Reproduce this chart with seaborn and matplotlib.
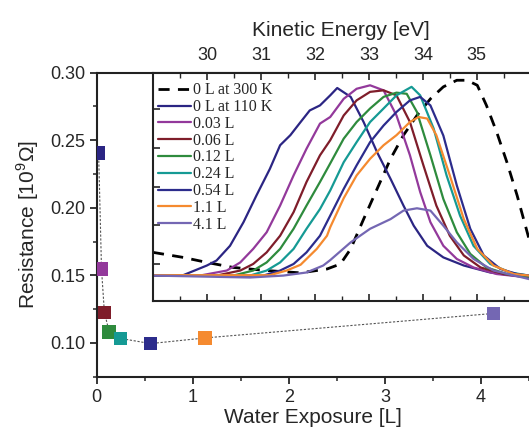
import numpy as np
import pandas as pd
import seaborn as sns
import matplotlib
matplotlib.use("Agg")
import matplotlib.pyplot as plt
from matplotlib.ticker import MultipleLocator, FixedLocator

# resistance vs water exposure (main panel)
exposure = [0.02, 0.05, 0.08, 0.13, 0.25, 0.56, 1.13, 4.13]
resistance = [0.2406, 0.1547, 0.1226, 0.1082, 0.1033, 0.0995, 0.1037, 0.1218]
labels = ["0 L at 110 K", "0.03 L", "0.06 L", "0.12 L", "0.24 L", "0.54 L", "1.1 L", "4.1 L"]
colors = ["#2b2583", "#93399b", "#7f1d2a", "#2e8b3d", "#159a94", "#2c2c8c", "#f58a2f", "#7467b3"]

# inset tick positions
ke_major = [30, 31, 32, 33, 34, 35]
ke_minor = [29.5, 30.5, 31.5, 32.5, 33.5, 34.5, 35.5]

# spectra (inset), kinetic energy [eV] and intensity [arb.]
ke_300k = [28.99, 29.55, 29.99, 30.48, 31.10, 31.73, 32.22, 32.47, 32.66, 32.90, 33.15, 33.40,
           33.64, 33.89, 34.14, 34.38, 34.63, 34.82, 35.01, 35.18, 35.37, 35.56, 35.75, 35.97]
int_300k = [1.30, 1.17, 1.04, 0.91, 0.83, 0.77, 0.87, 1.00, 1.39, 2.16, 2.94, 3.72,
            4.33, 4.84, 5.27, 5.58, 5.75, 5.75, 5.62, 5.10, 4.41, 3.63, 2.77, 1.65]

ke_110k = [28.99, 29.55, 29.99, 30.17, 30.42, 30.67, 30.91, 31.16, 31.35, 31.54, 31.73, 31.90,
           32.09, 32.28, 32.41, 32.66, 32.90, 33.15, 33.40, 33.64, 33.83, 34.08, 34.38, 34.76,
           35.25, 35.97]
int_110k = [0.70, 0.71, 0.96, 1.09, 1.47, 2.08, 2.77, 3.46, 4.07, 4.33, 4.67, 4.97,
            5.10, 5.36, 5.55, 5.32, 4.67, 3.89, 3.20, 2.51, 1.99, 1.47, 1.17, 0.96,
            0.78, 0.65]

ke_003 = [28.99, 29.86, 30.36, 30.61, 30.85, 31.10, 31.35, 31.60, 31.84, 32.09, 32.28, 32.53,
          32.77, 33.02, 33.27, 33.51, 33.76, 33.95, 34.14, 34.38, 34.63, 34.94, 35.37, 35.97]
int_003 = [0.70, 0.70, 0.83, 1.04, 1.39, 1.82, 2.51, 3.29, 3.98, 4.63, 4.80, 5.27,
           5.53, 5.62, 5.49, 4.84, 3.81, 2.86, 2.08, 1.47, 1.13, 0.91, 0.74, 0.65]

ke_006 = [28.99, 30.17, 30.61, 30.85, 31.10, 31.35, 31.60, 31.84, 32.09, 32.28, 32.53, 32.77,
          33.02, 33.27, 33.51, 33.76, 34.01, 34.25, 34.50, 34.76, 35.07, 35.50, 35.97]
int_006 = [0.71, 0.70, 0.83, 1.00, 1.30, 1.73, 2.34, 3.12, 3.81, 4.20, 4.84, 5.23,
           5.45, 5.49, 5.36, 4.67, 3.55, 2.51, 1.73, 1.22, 0.91, 0.74, 0.67]

ke_012 = [28.99, 30.48, 30.85, 31.10, 31.35, 31.60, 31.84, 32.09, 32.28, 32.53, 32.77, 33.02,
          33.27, 33.51, 33.70, 33.89, 34.14, 34.38, 34.63, 34.88, 35.18, 35.56, 35.97]
int_012 = [0.70, 0.70, 0.83, 1.04, 1.39, 1.91, 2.51, 3.12, 3.60, 4.24, 4.67, 5.02,
           5.32, 5.43, 5.40, 4.93, 3.81, 2.68, 1.82, 1.26, 0.91, 0.74, 0.67]

ke_024 = [28.99, 30.79, 31.10, 31.35, 31.60, 31.84, 32.09, 32.28, 32.53, 32.77, 33.02, 33.27,
          33.51, 33.79, 33.95, 34.20, 34.44, 34.69, 34.94, 35.25, 35.62, 35.97]
int_024 = [0.70, 0.70, 0.83, 1.04, 1.39, 1.91, 2.42, 2.90, 3.63, 4.15, 4.67, 5.02,
           5.36, 5.58, 5.36, 4.50, 3.29, 2.25, 1.47, 1.00, 0.78, 0.70]

ke_054 = [28.99, 31.04, 31.35, 31.60, 31.84, 32.09, 32.28, 32.53, 32.77, 33.02, 33.27, 33.51,
          33.76, 33.95, 34.14, 34.38, 34.63, 34.88, 35.13, 35.44, 35.75, 35.97]
int_054 = [0.70, 0.70, 0.83, 1.00, 1.30, 1.73, 2.25, 2.94, 3.55, 4.15, 4.58, 4.93,
           5.23, 5.32, 5.10, 4.32, 3.03, 1.91, 1.22, 0.87, 0.74, 0.70]

ke_11 = [28.99, 31.16, 31.47, 31.73, 32.03, 32.22, 32.28, 32.53, 32.77, 33.02, 33.27, 33.51,
         33.76, 33.92, 34.08, 34.25, 34.50, 34.76, 35.01, 35.31, 35.69, 35.97]
int_11 = [0.71, 0.71, 0.83, 0.98, 1.39, 1.73, 1.95, 2.70, 3.29, 3.72, 4.07, 4.33,
          4.67, 4.80, 4.76, 4.33, 3.29, 2.16, 1.39, 0.96, 0.74, 0.70]

ke_41 = [28.99, 30.79, 31.41, 31.84, 32.15, 32.28, 32.66, 33.02, 33.40, 33.64, 33.89, 34.14,
         34.38, 34.63, 34.94, 35.31, 35.97]
int_41 = [0.70, 0.65, 0.70, 0.78, 0.96, 1.10, 1.56, 1.91, 2.16, 2.38, 2.44, 2.38,
          1.99, 1.56, 1.13, 0.83, 0.61]

spectra = [(ke_110k, int_110k), (ke_003, int_003), (ke_006, int_006), (ke_012, int_012),
           (ke_024, int_024), (ke_054, int_054), (ke_11, int_11), (ke_41, int_41)]

sns.set_style("ticks")
plt.rcParams['font.family'] = ['Liberation Sans', 'DejaVu Sans']
plt.rcParams['mathtext.fontset'] = 'custom'
plt.rcParams['mathtext.rm'] = 'Liberation Sans'

fig = plt.figure(figsize=(5.29, 4.33), dpi=100)
ax = fig.add_axes([0.1828, 0.130, 0.8172, 0.7025])

df = pd.DataFrame({'exposure': exposure, 'resistance': resistance, 'label': labels})
sns.lineplot(data=df, x='exposure', y='resistance', ax=ax, color='#555555', lw=0.8,
             linestyle=(0, (2, 1.5)), sort=False, zorder=1)
sns.scatterplot(data=df, x='exposure', y='resistance', hue='label', palette=colors, ax=ax,
                marker='s', s=95, edgecolor='none', legend=False, zorder=3)

ax.set_xlim(0, 4.5)
ax.set_ylim(0.075, 0.30)
ax.xaxis.set_major_locator(MultipleLocator(1))
ax.xaxis.set_minor_locator(MultipleLocator(0.5))
ax.yaxis.set_major_locator(MultipleLocator(0.05))
ax.yaxis.set_minor_locator(MultipleLocator(0.025))
ax.yaxis.set_major_formatter(plt.FormatStrFormatter('%.2f'))
ax.tick_params(which='major', direction='out', length=5, width=1.3, labelsize=13)
ax.tick_params(which='minor', direction='out', length=3, width=1.1)
ax.set_xlabel('Water Exposure [L]', fontsize=15, labelpad=2)
ax.set_ylabel('Resistance [10$^{9}$Ω]', fontsize=15, labelpad=6)
ax.spines['right'].set_visible(False)
for s in ['left', 'bottom', 'top']:
    ax.spines[s].set_linewidth(1.5)
    ax.spines[s].set_color('#222222')

# inset with spectra
axin = fig.add_axes([0.2892, 0.3055, 0.7108, 0.527])
axin.set_facecolor('white')
sns.lineplot(x=ke_300k, y=int_300k, ax=axin, color='black', lw=2.0, linestyle=(0, (4, 3)),
             sort=False, label='0 L at 300 K')
for (ke, inten), c, lab in zip(spectra, colors, labels):
    sns.lineplot(x=ke, y=inten, ax=axin, color=c, lw=1.6, sort=False, label=lab)

axin.set_xlim(28.99, 35.97)
axin.set_ylim(0.05, 5.95)
axin.xaxis.set_major_locator(FixedLocator(ke_major))
axin.xaxis.set_minor_locator(FixedLocator(ke_minor))
axin.yaxis.set_major_locator(MultipleLocator(1))
axin.set_yticklabels([])
axin.xaxis.tick_top()
axin.xaxis.set_label_position('top')
axin.tick_params(which='both', direction='in', top=True, bottom=True, left=True,
                 labeltop=True, labelbottom=False, labelleft=False)
axin.tick_params(which='major', length=5, width=1.2, labelsize=13, pad=6)
axin.tick_params(which='minor', length=3.5, width=1.0)
axin.set_xlabel('Kinetic Energy [eV]', fontsize=15, labelpad=8)
axin.set_ylabel('')
axin.spines['right'].set_visible(False)
for s in ['left', 'bottom', 'top']:
    axin.spines[s].set_linewidth(1.5)
    axin.spines[s].set_color('#222222')

leg = axin.legend(loc='upper left', bbox_to_anchor=(0.0, 0.978), frameon=False,
                  prop={'family': 'Liberation Serif', 'size': 11.4},
                  handlelength=2.1, handletextpad=0.1, labelspacing=0.05,
                  borderaxespad=0.1, borderpad=0.2)

fig.savefig('out.png', dpi=100)
